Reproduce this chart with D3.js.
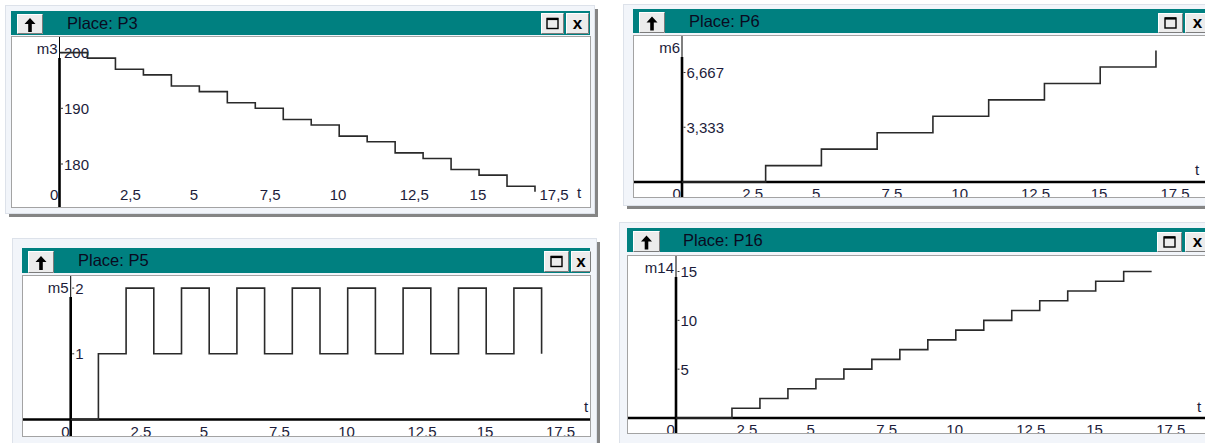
<!DOCTYPE html>
<html>
<head>
<meta charset="utf-8">
<script src="https://cdn.jsdelivr.net/npm/d3@7"></script>
<style>
  body { margin: 0; background: #ffffff; }
  svg text { font-family: "Liberation Sans", Arial, sans-serif; }
</style>
</head>
<body>
<div id="chart"></div>
<script>
// Simulation time steps and marking of each place
const times = [0, 1, 2, 3, 4, 5, 6, 7, 8, 9, 10, 11, 12, 13, 14, 15, 16, 17];
const p3Values = [200, 199, 197, 196, 194, 193, 191, 190, 188, 187, 185, 184, 182, 181, 179, 178, 176, 175];
const p6Values = [0, 0, 0, 1, 1, 2, 2, 3, 3, 4, 4, 5, 5, 6, 6, 7, 7, 8];
const p5Values = [0, 1, 2, 1, 2, 1, 2, 1, 2, 1, 2, 1, 2, 1, 2, 1, 2, 1];
const p16Values = [0, 0, 1, 2, 3, 4, 5, 6, 7, 8, 9, 10, 11, 12, 13, 14, 15, 15];

// Tick values and labels
const xTicks = [0, 2.5, 5, 7.5, 10, 12.5, 15, 17.5];
const xTickLabels = ["0", "2,5", "5", "7,5", "10", "12,5", "15", "17,5"];
const p3Ticks = [180, 190, 200];
const p3TickLabels = ["180", "190", "200"];
const p6Ticks = [3.333, 6.667];
const p6TickLabels = ["3,333", "6,667"];
const p5Ticks = [1, 2];
const p5TickLabels = ["1", "2"];
const p16Ticks = [5, 10, 15];
const p16TickLabels = ["5", "10", "15"];

const width = 1205;
const height = 443;
const teal = "#008080";
const labelColor = "#1c1c3a";

const panels = [
    {
        place: "P3", yName: "m3", values: p3Values, yTicks: p3Ticks, yTickLabels: p3TickLabels,
        frame: [5, 5, 589, 208], title: [11, 11, 579, 24], plot: [11, 36, 579, 171],
        axisX: 59.5, unit: 27.97, yDomain: [180, 200], yRange: [164, 52.6],
        xAxisY: null, labelY: 200, tX: 577, tY: 198,
        upBtn: [17, 14, 26, 20], sqBtn: [541, 13, 23, 21], xBtn: [566, 13, 23, 21]
    },
    {
        place: "P6", yName: "m6", values: p6Values, yTicks: p6Ticks, yTickLabels: p6TickLabels,
        frame: [623, 4, 600, 201], title: [633, 9, 590, 24], plot: [633, 35, 590, 162],
        axisX: 682, unit: 27.88, yDomain: [0, 8], yRange: [182, 50.6],
        xAxisY: 182, labelY: 199, tX: 1195, tY: 175,
        upBtn: [639, 12, 26, 21], sqBtn: [1158, 13, 25, 20], xBtn: [1185, 13, 25, 20]
    },
    {
        place: "P5", yName: "m5", values: p5Values, yTicks: p5Ticks, yTickLabels: p5TickLabels,
        frame: [12, 238, 584, 215], title: [22, 248, 568, 25], plot: [22, 275, 568, 161],
        axisX: 70.7, unit: 27.7, yDomain: [0, 2], yRange: [419.5, 288.1],
        xAxisY: 419.5, labelY: 436.5, tX: 584, tY: 412,
        upBtn: [28, 251, 26, 22], sqBtn: [544, 251, 25, 21], xBtn: [571, 251, 20, 21]
    },
    {
        place: "P16", yName: "m14", values: p16Values, yTicks: p16Ticks, yTickLabels: p16TickLabels,
        frame: [619, 222, 600, 230], title: [627, 228, 590, 24], plot: [627, 255, 590, 178],
        axisX: 676, unit: 27.98, yDomain: [0, 15], yRange: [418, 271.5],
        xAxisY: 418, labelY: 435, tX: 1197, tY: 412,
        upBtn: [633, 231, 27, 21], sqBtn: [1157, 232, 25, 20], xBtn: [1185, 232, 25, 20]
    }
];

const svg = d3.select("#chart")
    .append("svg")
    .attr("width", width)
    .attr("height", height);

function drawButton(g, [bx, by, bw, bh]) {
    g.append("rect")
        .attr("x", bx).attr("y", by)
        .attr("width", bw).attr("height", bh)
        .attr("fill", "#ececec");
    g.append("path")
        .attr("d", `M${bx + 0.5},${by + bh - 0.5}V${by + 0.5}H${bx + bw - 0.5}`)
        .attr("fill", "none").attr("stroke", "#ffffff");
    g.append("path")
        .attr("d", `M${bx + 0.5},${by + bh - 0.5}H${bx + bw - 0.5}V${by + 0.5}`)
        .attr("fill", "none").attr("stroke", "#7c7c7c");
}

panels.forEach((p, i) => {
    const g = svg.append("g").attr("class", `panel-${p.place}`);
    const [fx, fy, fw, fh] = p.frame;
    const [tx, ty, tw, th] = p.title;
    const [px, py, pw, ph] = p.plot;

    // window frame with shadow
    g.append("rect")
        .attr("x", fx + 4).attr("y", fy + 4)
        .attr("width", fw).attr("height", fh)
        .attr("fill", "#858585");
    g.append("rect")
        .attr("x", fx + 0.5).attr("y", fy + 0.5)
        .attr("width", fw).attr("height", fh)
        .attr("fill", "#f2f5fa")
        .attr("stroke", "#dde2ea");

    // title bar
    g.append("rect")
        .attr("x", tx).attr("y", ty)
        .attr("width", tw).attr("height", th)
        .attr("fill", teal);
    g.append("text")
        .attr("x", tx + 56)
        .attr("y", ty + 18)
        .attr("font-size", "16.5px")
        .attr("fill", "#0a0a20")
        .text(`Place: ${p.place}`);

    drawButton(g, p.upBtn);
    const ucx = p.upBtn[0] + p.upBtn[2] / 2;
    const ucy = p.upBtn[1] + p.upBtn[3] / 2 + 1;
    g.append("path")
        .attr("d", `M${ucx},${ucy - 7}L${ucx + 5.5},${ucy - 1}L${ucx + 1.8},${ucy - 1}L${ucx + 1.8},${ucy + 7}` +
            `L${ucx - 1.8},${ucy + 7}L${ucx - 1.8},${ucy - 1}L${ucx - 5.5},${ucy - 1}Z`)
        .attr("fill", "#000");

    drawButton(g, p.sqBtn);
    const scx = p.sqBtn[0] + p.sqBtn[2] / 2;
    const scy = p.sqBtn[1] + p.sqBtn[3] / 2;
    g.append("rect")
        .attr("x", scx - 5.5).attr("y", scy - 5)
        .attr("width", 11).attr("height", 10)
        .attr("fill", "none").attr("stroke", "#000").attr("stroke-width", 1.4);
    g.append("line")
        .attr("x1", scx - 5.5).attr("x2", scx + 5.5)
        .attr("y1", scy - 4.5).attr("y2", scy - 4.5)
        .attr("stroke", "#000").attr("stroke-width", 2.2);

    drawButton(g, p.xBtn);
    g.append("text")
        .attr("x", p.xBtn[0] + p.xBtn[2] / 2)
        .attr("y", p.xBtn[1] + p.xBtn[3] / 2 + 5)
        .attr("text-anchor", "middle")
        .attr("font-size", "17px")
        .attr("font-weight", "bold")
        .attr("fill", "#000")
        .text("x");

    // plot area
    g.append("rect")
        .attr("x", px + 0.5).attr("y", py + 0.5)
        .attr("width", pw).attr("height", ph)
        .attr("fill", "#ffffff")
        .attr("stroke", "#a3a3a3");

    const clipId = `clip-${i}`;
    g.append("clipPath").attr("id", clipId)
        .append("rect")
        .attr("x", px + 1).attr("y", py + 1)
        .attr("width", pw - 1).attr("height", ph - 1);
    const plot = g.append("g").attr("clip-path", `url(#${clipId})`);

    const x = d3.scaleLinear()
        .domain([0, 17.5])
        .range([p.axisX, p.axisX + 17.5 * p.unit]);
    const y = d3.scaleLinear()
        .domain(p.yDomain)
        .range(p.yRange);

    // x axis line
    if (p.xAxisY !== null) {
        plot.append("line")
            .attr("x1", px).attr("x2", px + pw)
            .attr("y1", p.xAxisY).attr("y2", p.xAxisY)
            .attr("stroke", "#000").attr("stroke-width", 2.6);
    }

    // y axis: thin on top, thick below
    plot.append("line")
        .attr("x1", p.axisX).attr("x2", p.axisX)
        .attr("y1", py).attr("y2", py + 22)
        .attr("stroke", "#000").attr("stroke-width", 1);
    plot.append("line")
        .attr("x1", p.axisX).attr("x2", p.axisX)
        .attr("y1", py + 22).attr("y2", py + ph)
        .attr("stroke", "#000").attr("stroke-width", 2.6);

    // y ticks and labels
    plot.selectAll(".ytick")
        .data(p.yTicks)
        .enter().append("line")
        .attr("class", "ytick")
        .attr("x1", p.axisX + 1.5).attr("x2", p.axisX + 3.5)
        .attr("y1", d => y(d)).attr("y2", d => y(d))
        .attr("stroke", "#333").attr("stroke-width", 1);
    plot.selectAll(".ylabel")
        .data(p.yTicks)
        .enter().append("text")
        .attr("class", "ylabel")
        .attr("x", p.axisX + 4.5)
        .attr("y", d => y(d) + 5.5)
        .attr("font-size", "15px")
        .attr("fill", labelColor)
        .text((d, k) => p.yTickLabels[k]);

    // x labels (clipped by plot bottom)
    plot.selectAll(".xlabel")
        .data(xTicks)
        .enter().append("text")
        .attr("class", "xlabel")
        .attr("x", d => x(d) - 9.5)
        .attr("y", p.labelY)
        .attr("font-size", "15px")
        .attr("fill", labelColor)
        .text((d, k) => xTickLabels[k]);

    // axis names
    plot.append("text")
        .attr("x", p.axisX - 2)
        .attr("y", py + 18)
        .attr("text-anchor", "end")
        .attr("font-size", "15px")
        .attr("fill", labelColor)
        .text(p.yName);
    plot.append("text")
        .attr("x", p.tX)
        .attr("y", p.tY)
        .attr("font-size", "15px")
        .attr("fill", labelColor)
        .text("t");

    // step line of marking
    const series = times.map((t, k) => ({ t: t, v: p.values[k] }));
    const line = d3.line()
        .x(d => x(d.t))
        .y(d => y(d.v))
        .curve(d3.curveStepAfter);
    plot.append("path")
        .datum(series)
        .attr("d", line)
        .attr("fill", "none")
        .attr("stroke", "#2a2a2a")
        .attr("stroke-width", 1.6);
});
</script>
</body>
</html>
